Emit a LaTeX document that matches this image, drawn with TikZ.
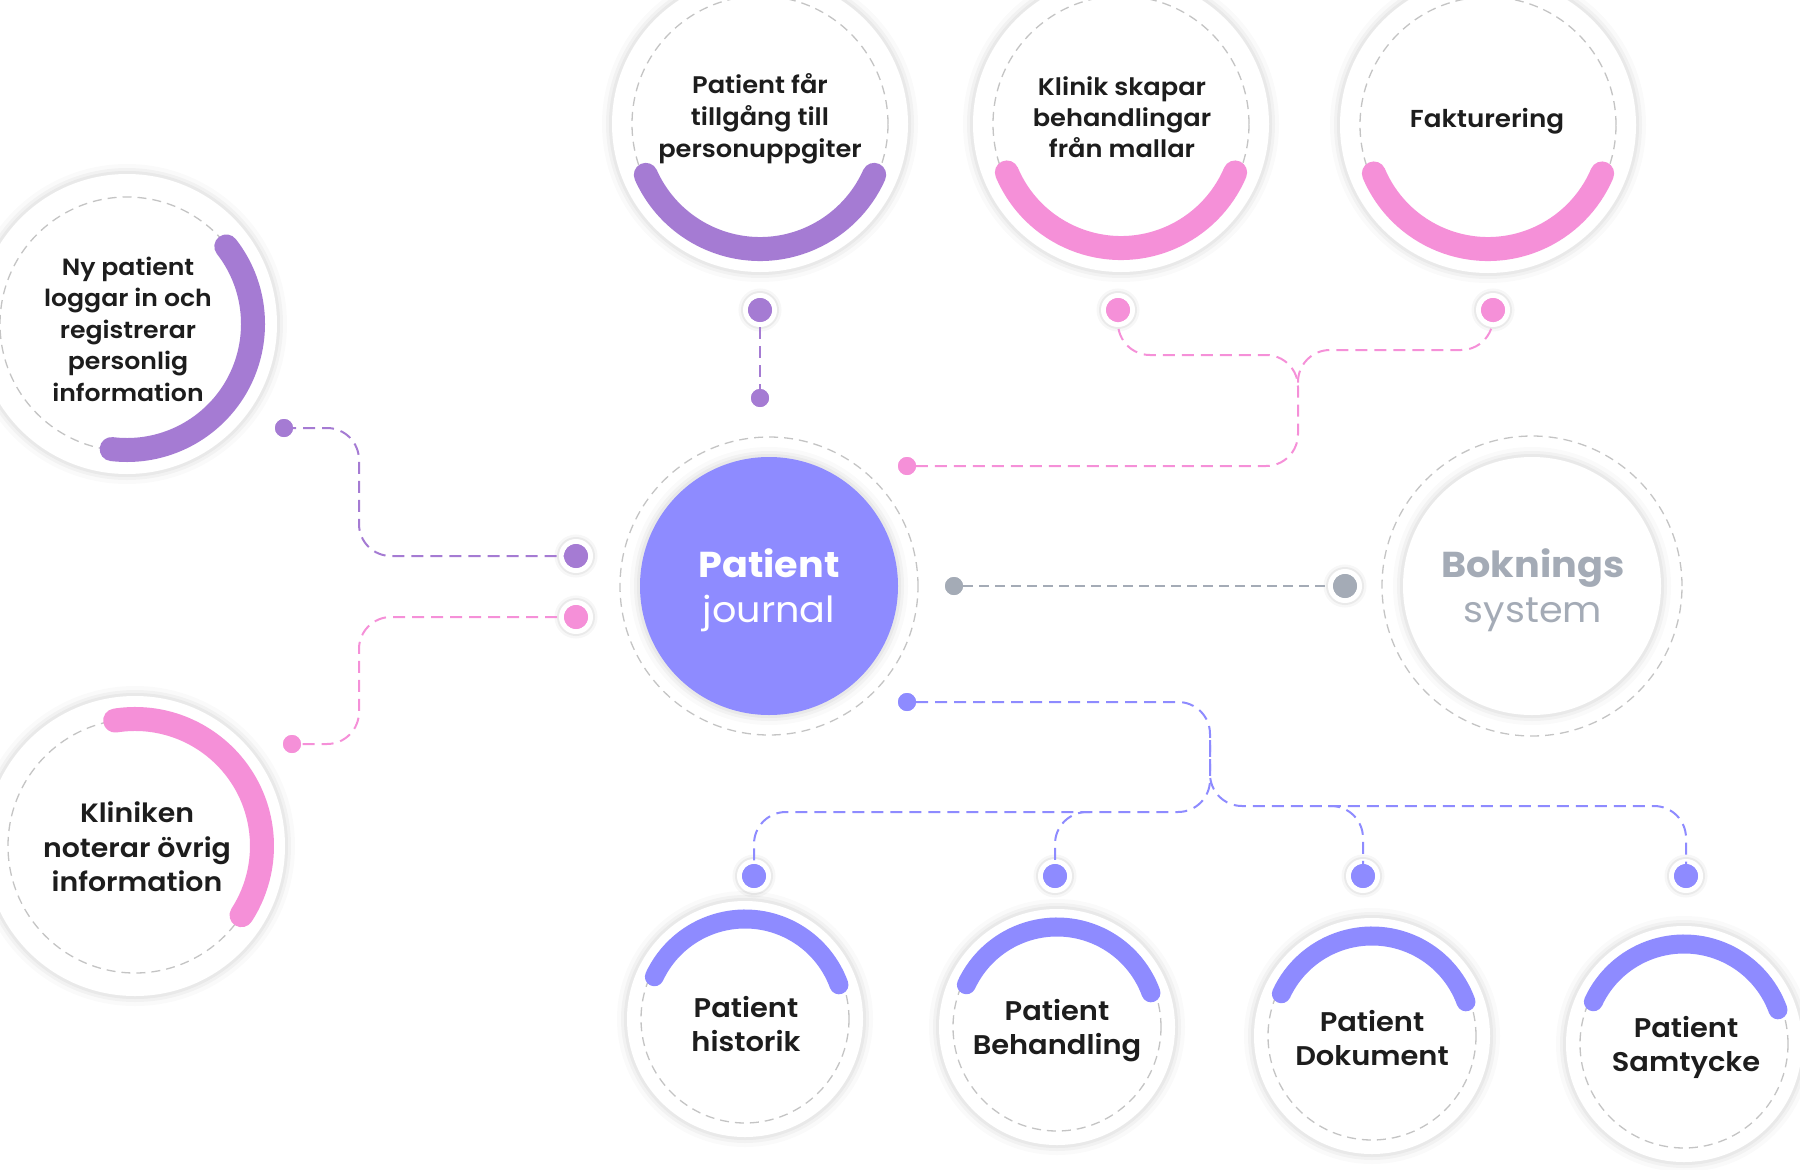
\documentclass[tikz,border=0pt]{standalone}
\usepackage{fontspec}
\setmainfont{Poppins}[FakeStretch=1.06]
\newfontfamily\medfont{Poppins SemiBold}[FakeStretch=1.07]
\usetikzlibrary{calc}
\definecolor{cpurple}{HTML}{A57BD3}
\definecolor{cpink}{HTML}{F590D8}
\definecolor{cblue}{HTML}{8E8BFF}
\definecolor{cgray}{HTML}{A4ABB6}
\definecolor{ctext}{HTML}{1D1D1D}
\definecolor{cring}{HTML}{C4C4C4}
\begin{document}
\begin{tikzpicture}[x=1pt,y=1pt,
  glow/.style={preaction={draw=black,draw opacity=0.02,line width=20pt},
               preaction={draw=black,draw opacity=0.03,line width=12pt},
               preaction={draw=black,draw opacity=0.04,line width=6pt}},
  glowsmall/.style={preaction={draw=black,draw opacity=0.03,line width=14pt},
                    preaction={draw=black,draw opacity=0.05,line width=9pt}},
  disc/.style={circle,fill=white,inner sep=0pt,outer sep=0pt,glow},
  ringline/.style={draw=cring,line width=1.3pt,dash pattern=on 9pt off 6pt},
  arcbig/.style={line width=24pt,line cap=round},
  arcsmall/.style={line width=19pt,line cap=round},
  ringdot/.style={circle,inner sep=0pt,minimum size=29pt,draw=white,line width=5pt,fill=#1,glowsmall},
  smalldot/.style={circle,inner sep=0pt,minimum size=18pt,fill=#1},
  conn/.style={draw=#1,line width=2pt,dash pattern=on 12pt off 7pt,rounded corners=32pt},
  ctxt/.style={align=center,text=ctext},
  fs/.style 2 args={font=\medfont\fontsize{#1}{#2}\selectfont}
]
\useasboundingbox (0,0) rectangle (1800,-1170);

% ---------- junction coordinates ----------
\coordinate (pj) at (1298,-355);
\coordinate (pj2) at (1298,-350);
\coordinate (bj) at (1210,-812);
\coordinate (bj2) at (1210,-806);
\coordinate (lx) at (359,0);

% ---------- dots ----------
\node[ringdot=cpurple] (pd1) at (760,-310) {};
\node[smalldot=cpurple] (ps1) at (760,-398) {};
\node[ringdot=cpink] (kd2) at (1118,-310) {};
\node[ringdot=cpink] (kd3) at (1493,-310) {};
\node[smalldot=cpink] (ps2) at (907,-466) {};
\node[smalldot=cgray] (gs) at (954,-586) {};
\node[ringdot=cgray] (gd) at (1345,-586) {};
\node[smalldot=cblue] (bsm) at (907,-702) {};
\node[ringdot=cblue] (bd1) at (754,-876) {};
\node[ringdot=cblue] (bd2) at (1055,-876) {};
\node[ringdot=cblue] (bd3) at (1363,-876) {};
\node[ringdot=cblue] (bd4) at (1686,-876) {};
\node[smalldot=cpurple] (ls1) at (284,-428) {};
\node[ringdot=cpurple] (ld1) at (576,-556) {};
\node[ringdot=cpink] (ld2) at (576,-617) {};
\node[smalldot=cpink] (ls2) at (292,-744) {};

% ---------- connectors ----------
\draw[conn=cpurple] (pd1) -- (ps1);
\draw[conn=cpink] (kd2.center) -- (kd2.center |- pj) -- (pj) -- (pj |- ps2) -- (ps2);
\draw[conn=cpink] (kd3.center) -- (kd3.center |- pj2) -- (pj2) -- ($(pj2)+(0,-38)$);
\draw[conn=cgray,line width=1.5pt,dash pattern=on 10pt off 6pt] (gs) -- (gd);
\draw[conn=cblue] (bsm) -- (bsm -| bj) -- (bj) -- (bj -| bd1) -- (bd1.center);
\draw[conn=cblue] ($(bj2)+(0,66)$) -- (bj2) -- (bj2 -| bd4) -- (bd4.center);
\draw[conn=cblue] ($(bj -| bd2)+(35,0)$) -- (bj -| bd2) -- (bd2.center);
\draw[conn=cblue] ($(bj2 -| bd3)+(-35,0)$) -- (bj2 -| bd3) -- (bd3.center);
\draw[conn=cpurple] (ls1.center) -- (ls1 -| lx) -- (lx |- ld1) -- (ld1.center);
\draw[conn=cpink] (ld2.center) -- (ld2 -| lx) -- (lx |- ls2) -- (ls2.center);

% redraw dot fills over line ends
\foreach \n/\c in {pd1/cpurple,kd2/cpink,kd3/cpink,gd/cgray,bd1/cblue,bd2/cblue,bd3/cblue,bd4/cblue,ld1/cpurple,ld2/cpink}{
  \fill[\c] (\n.center) circle[radius=12];
}
\foreach \n/\c in {ps1/cpurple,ps2/cpink,gs/cgray,bsm/cblue,ls1/cpurple,ls2/cpink}{
  \fill[\c] (\n.center) circle[radius=9];
}

% ---------- top circles ----------
\node[disc,minimum size=296pt] (c1) at (760,-124) {};
\draw[ringline] (c1.center) circle[radius=128];
\draw[arcbig,cpurple] ($(c1.center)+(204:125)$) arc[start angle=204,end angle=336,radius=125];
\node[ctxt,fs={24}{32}] (c1t) at (760,-119) {Patient får\\tillgång till\\personuppgiter};

\node[disc,minimum size=296pt] (c2) at (1121,-124) {};
\draw[ringline] (c2.center) circle[radius=128];
\draw[arcbig,cpink] ($(c2.center)+(203:124)$) arc[start angle=203,end angle=337,radius=124];
\node[ctxt,fs={24}{31}] (c2t) at (1122,-117) {Klinik skapar\\behandlingar\\från mallar};

\node[disc,minimum size=296pt] (c3) at (1488,-125) {};
\draw[ringline] (c3.center) circle[radius=128];
\draw[arcbig,cpink] ($(c3.center)+(203:124)$) arc[start angle=203,end angle=337,radius=124];
\node[ctxt,fs={24.5}{31}] (c3t) at (1487,-121) {Fakturering};

% ---------- left circles ----------
\node[disc,minimum size=300pt] (l1) at (127,-324) {};
\draw[ringline] (l1.center) circle[radius=127];
\draw[arcbig,cpurple] ($(l1.center)+(38:126)$) arc[start angle=38,end angle=-97,radius=126];
\node[ctxt,fs={23.5}{31.5}] (l1t) at (128,-329) {Ny patient\\loggar in och\\registrerar\\personlig\\information};

\node[disc,minimum size=300pt] (l2) at (135,-846) {};
\draw[ringline] (l2.center) circle[radius=127];
\draw[arcbig,cpink] ($(l2.center)+(99:127)$) arc[start angle=99,end angle=-33,radius=127];
\node[ctxt,fs={26.5}{34.5}] (l2t) at (137,-847) {Kliniken\\noterar övrig\\information};

% ---------- central ----------
\node[disc,fill=cblue,minimum size=258pt] (pjr) at (769,-586) {};
\draw[ringline] (pjr.center) circle[radius=149];
\node[anchor=base,text=white,font=\bfseries\fontsize{36}{45}\selectfont] (pjr1) at (769,-577) {Patient};
\node[anchor=base,text=white,font=\fontsize{36}{45}\selectfont] (pjr2) at (769,-622) {journal};

\node[disc,minimum size=258pt] (bok) at (1532,-586) {};
\draw[ringline] (bok.center) circle[radius=150];
\node[anchor=base,text=cgray,font=\bfseries\fontsize{36}{45}\selectfont] (bok1) at (1533,-577) {Boknings};
\node[anchor=base,text=cgray,font=\fontsize{36}{45}\selectfont] (bok2) at (1533,-622) {system};

% ---------- bottom circles ----------
\node[disc,minimum size=236pt] (b1) at (745,-1019) {};
\draw[ringline] (b1.center) circle[radius=104];
\draw[arcsmall,cblue] ($(b1.center)+(155:100)$) arc[start angle=155,end angle=20,radius=100];
\node[ctxt,fs={27}{34}] (b1t) at (746,-1024) {Patient\\historik};

\node[disc,minimum size=236pt] (b2) at (1057,-1027) {};
\draw[ringline] (b2.center) circle[radius=104];
\draw[arcsmall,cblue] ($(b2.center)+(155:100)$) arc[start angle=155,end angle=20,radius=100];
\node[ctxt,fs={27}{34}] (b2t) at (1057,-1031) {Patient\\Behandling};

\node[disc,minimum size=236pt] (b3) at (1372,-1036) {};
\draw[ringline] (b3.center) circle[radius=104];
\draw[arcsmall,cblue] ($(b3.center)+(155:100)$) arc[start angle=155,end angle=20,radius=100];
\node[ctxt,fs={27}{34}] (b3t) at (1372,-1038) {Patient\\Dokument};

\node[disc,minimum size=236pt] (b4) at (1684,-1044) {};
\draw[ringline] (b4.center) circle[radius=104];
\draw[arcsmall,cblue] ($(b4.center)+(155:100)$) arc[start angle=155,end angle=20,radius=100];
\node[ctxt,fs={27}{34}] (b4t) at (1686,-1047) {Patient\\Samtycke};
\end{tikzpicture}
\end{document}
